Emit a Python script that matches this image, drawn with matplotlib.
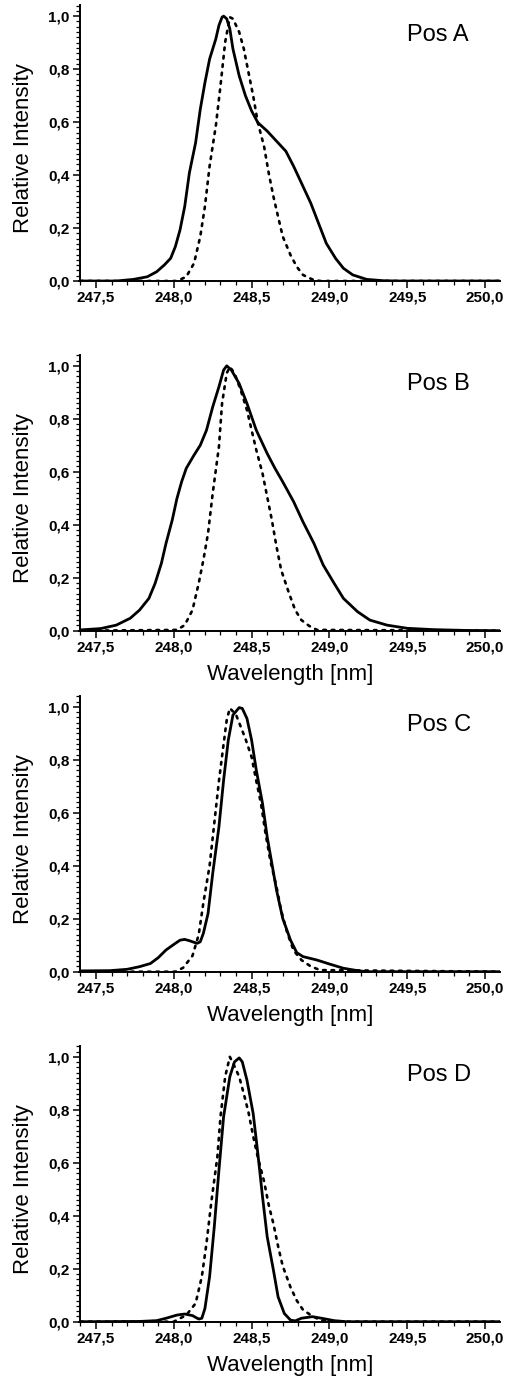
import matplotlib
matplotlib.use("Agg")
import matplotlib.pyplot as plt
from matplotlib.ticker import MultipleLocator, FuncFormatter

plt.rcParams['font.family'] = ['Liberation Sans', 'DejaVu Sans']

# ---------------- data ----------------
# Pos A
a_solid_x = [247.40, 247.63, 247.74, 247.83, 247.89, 247.94, 247.98, 248.01, 248.04, 248.07, 248.10,
             248.14, 248.17, 248.20, 248.23, 248.27, 248.29, 248.31, 248.32, 248.34, 248.36, 248.38,
             248.42, 248.46, 248.50, 248.54, 248.60, 248.66, 248.72, 248.77, 248.82, 248.88, 248.93,
             248.98, 249.04, 249.09, 249.15, 249.24, 249.35, 249.45, 250.10]
a_solid_y = [0.0, 0.0, 0.006, 0.016, 0.035, 0.061, 0.086, 0.13, 0.193, 0.281, 0.408,
             0.522, 0.648, 0.749, 0.838, 0.914, 0.965, 0.996, 1.0, 0.99, 0.952, 0.876,
             0.775, 0.70, 0.642, 0.598, 0.566, 0.528, 0.49, 0.433, 0.370, 0.294, 0.218,
             0.142, 0.085, 0.048, 0.023, 0.006, 0.001, 0.0, 0.0]
a_dot_x = [247.40, 248.02, 248.08, 248.13, 248.17, 248.20, 248.23, 248.27, 248.30, 248.33, 248.36,
           248.38, 248.42, 248.45, 248.48, 248.51, 248.54, 248.58, 248.61, 248.64, 248.67, 248.70,
           248.75, 248.79, 248.83, 248.89, 248.94, 250.10]
a_dot_y = [0.0, 0.0, 0.016, 0.067, 0.168, 0.282, 0.434, 0.586, 0.737, 0.902, 0.996,
           0.99, 0.94, 0.876, 0.787, 0.699, 0.598, 0.508, 0.407, 0.319, 0.243, 0.168,
           0.098, 0.054, 0.023, 0.006, 0.0, 0.0]

# Pos B
b_solid_x = [247.40, 247.53, 247.63, 247.72, 247.78, 247.84, 247.88, 247.92, 247.95, 247.99, 248.02,
             248.05, 248.08, 248.13, 248.17, 248.21, 248.25, 248.29, 248.32, 248.34, 248.37, 248.42,
             248.47, 248.53, 248.60, 248.65, 248.70, 248.77, 248.83, 248.90, 248.96, 249.03, 249.09,
             249.18, 249.26, 249.37, 249.50, 249.67, 249.88, 250.10]
b_solid_y = [0.003, 0.008, 0.021, 0.047, 0.078, 0.122, 0.179, 0.254, 0.33, 0.418, 0.499,
             0.562, 0.613, 0.663, 0.70, 0.757, 0.845, 0.921, 0.984, 1.0, 0.984, 0.933,
             0.858, 0.757, 0.669, 0.613, 0.562, 0.487, 0.411, 0.33, 0.248, 0.179, 0.122,
             0.072, 0.04, 0.021, 0.009, 0.004, 0.001, 0.0]
b_dot_x = [247.40, 248.02, 248.07, 248.12, 248.16, 248.19, 248.22, 248.25, 248.29, 248.31, 248.34,
           248.36, 248.39, 248.43, 248.47, 248.50, 248.53, 248.57, 248.60, 248.63, 248.66, 248.69,
           248.74, 248.78, 248.82, 248.87, 248.92, 250.10]
b_dot_y = [0.0, 0.003, 0.021, 0.078, 0.179, 0.267, 0.368, 0.519, 0.695, 0.858, 0.972,
           0.996, 0.972, 0.908, 0.833, 0.757, 0.682, 0.594, 0.506, 0.418, 0.317, 0.229,
           0.142, 0.078, 0.04, 0.018, 0.003, 0.0]

# Pos C
c_solid_x = [247.40, 247.59, 247.70, 247.78, 247.85, 247.90, 247.95, 248.00, 248.04, 248.07, 248.10,
             248.15, 248.17, 248.19, 248.22, 248.25, 248.29, 248.32, 248.35, 248.38, 248.42, 248.44,
             248.47, 248.50, 248.53, 248.57, 248.60, 248.63, 248.66, 248.70, 248.75, 248.79, 248.83,
             248.92, 249.00, 249.09, 249.18, 249.24, 250.10]
c_solid_y = [0.003, 0.004, 0.009, 0.019, 0.031, 0.053, 0.082, 0.103, 0.119, 0.122, 0.117,
             0.107, 0.113, 0.145, 0.22, 0.371, 0.547, 0.723, 0.874, 0.969, 0.997, 0.994,
             0.956, 0.874, 0.761, 0.635, 0.509, 0.409, 0.308, 0.201, 0.119, 0.072, 0.057,
             0.044, 0.029, 0.013, 0.004, 0.0, 0.0]
c_dot_x = [247.40, 248.01, 248.06, 248.12, 248.16, 248.19, 248.23, 248.26, 248.29, 248.32, 248.34,
           248.36, 248.40, 248.42, 248.46, 248.50, 248.53, 248.56, 248.59, 248.62, 248.66, 248.69,
           248.73, 248.77, 248.82, 248.88, 248.94, 250.10]
c_dot_y = [0.0, 0.0, 0.015, 0.06, 0.14, 0.26, 0.40, 0.56, 0.72, 0.86, 0.95,
           0.995, 0.97, 0.94, 0.88, 0.81, 0.72, 0.635, 0.52, 0.42, 0.32, 0.23,
           0.145, 0.08, 0.044, 0.02, 0.006, 0.0]

# Pos D
d_solid_x = [247.40, 247.78, 247.89, 247.95, 248.02, 248.07, 248.12, 248.16, 248.18, 248.20, 248.23,
             248.26, 248.29, 248.32, 248.36, 248.39, 248.42, 248.44, 248.47, 248.51, 248.54, 248.57,
             248.60, 248.64, 248.67, 248.71, 248.75, 248.78, 248.82, 248.89, 248.95, 249.03, 249.11,
             250.10]
d_solid_y = [0.0, 0.001, 0.004, 0.013, 0.025, 0.029, 0.023, 0.01, 0.013, 0.05, 0.17,
             0.358, 0.572, 0.774, 0.925, 0.981, 0.996, 0.981, 0.912, 0.786, 0.635, 0.472,
             0.321, 0.195, 0.094, 0.031, 0.006, 0.003, 0.013, 0.019, 0.013, 0.004, 0.0,
             0.0]
d_dot_x = [247.40, 248.00, 248.08, 248.14, 248.18, 248.21, 248.24, 248.28, 248.30, 248.33, 248.36,
           248.38, 248.42, 248.45, 248.48, 248.51, 248.54, 248.58, 248.61, 248.64, 248.67, 248.70,
           248.75, 248.79, 248.83, 248.88, 248.94, 249.00, 250.10]
d_dot_y = [0.0, 0.0, 0.025, 0.069, 0.17, 0.296, 0.447, 0.623, 0.774, 0.925, 1.0,
           0.977, 0.925, 0.86, 0.79, 0.70, 0.62, 0.53, 0.44, 0.37, 0.285, 0.21,
           0.13, 0.08, 0.045, 0.025, 0.006, 0.0, 0.0]

panel_labels = ["Pos A", "Pos B", "Pos C", "Pos D"]
show_xlabel = [False, True, True, True]
x_label = "Wavelength [nm]"
y_label = "Relative Intensity"

panels = [
    (a_solid_x, a_solid_y, a_dot_x, a_dot_y),
    (b_solid_x, b_solid_y, b_dot_x, b_dot_y),
    (c_solid_x, c_solid_y, c_dot_x, c_dot_y),
    (d_solid_x, d_solid_y, d_dot_x, d_dot_y),
]

# ---------------- layout ----------------
W, H = 507, 1379
fig = plt.figure(figsize=(W / 100, H / 100), dpi=100)
left = 79.5 / W
width = 420.5 / W
height = 276 / H
bottoms_px = [281, 630.7, 971.7, 1321.7]

comma = FuncFormatter(lambda v, p: f"{v:.1f}".replace(".", ","))

for i, (sx, sy, dx, dy) in enumerate(panels):
    ax = fig.add_axes([left, (H - bottoms_px[i]) / H, width, height])
    ax.plot(dx, dy, color="black", lw=1.9, linestyle=(0, (1, 2.2)), dash_capstyle="round")
    ax.plot(sx, sy, color="black", lw=2.0, solid_joinstyle="round")
    ax.set_xlim(247.394, 250.096)
    ax.set_ylim(0, 1.042)
    for s in ("top", "right"):
        ax.spines[s].set_visible(False)
    for s in ("left", "bottom"):
        ax.spines[s].set_linewidth(1.4)
    ax.xaxis.set_major_locator(MultipleLocator(0.5))
    ax.xaxis.set_minor_locator(MultipleLocator(0.1))
    ax.yaxis.set_major_locator(MultipleLocator(0.2))
    ax.yaxis.set_minor_locator(MultipleLocator(0.02))
    ax.xaxis.set_major_formatter(comma)
    ax.yaxis.set_major_formatter(comma)
    ax.tick_params(which="major", direction="out", length=5, width=1.1, labelsize=11, pad=2)
    ax.tick_params(which="minor", direction="out", length=3, width=0.9)
    for lab in ax.get_xticklabels() + ax.get_yticklabels():
        lab.set_fontweight("bold")
    ax.set_ylabel(y_label, fontsize=16)
    ax.yaxis.label.set_va("center")
    ax.yaxis.set_label_coords(-0.132, 0.48)
    if show_xlabel[i]:
        ax.set_xlabel(x_label, fontsize=16)
        ax.xaxis.label.set_va("center")
        ax.xaxis.set_label_coords(0.5, -0.159)
    ax.text(249.5, 0.93, panel_labels[i], fontsize=17, ha="left", va="center")

fig.savefig("out.png", dpi=100)
